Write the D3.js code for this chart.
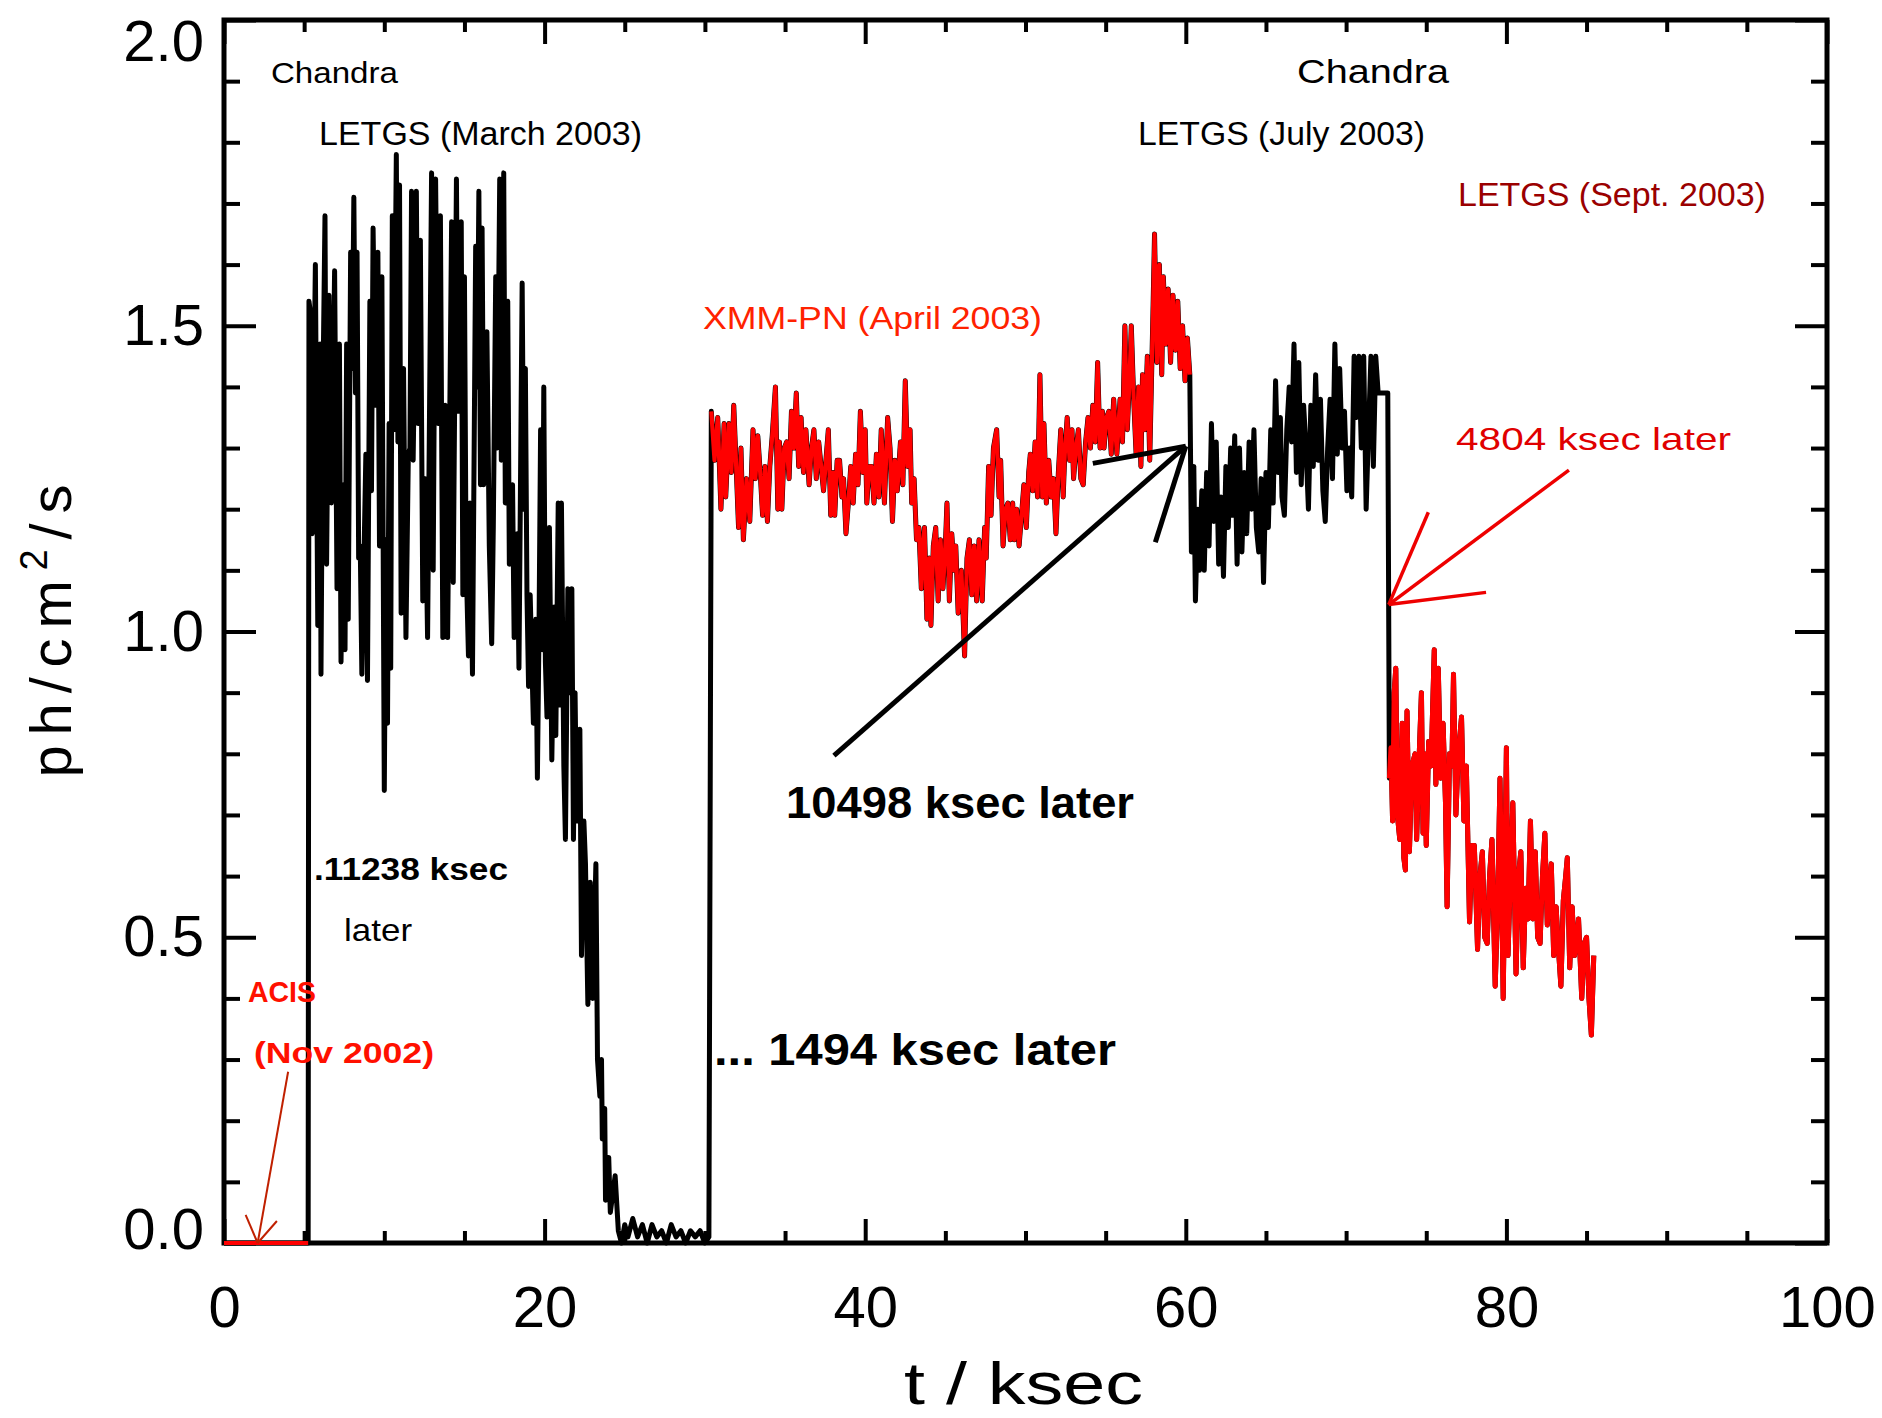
<!DOCTYPE html>
<html><head><meta charset="utf-8">
<script src="https://cdn.jsdelivr.net/npm/d3@7"></script>
<style>body{margin:0;background:#fff}</style>
</head><body><svg id="c" width="1882" height="1418"></svg>
<script>
// ---------- data (t in ksec, flux in ph/cm^2/s) ----------
const acis = [[0,0],[1,0],[2,0],[3,0],[4,0],[5.25,0]];
const march = [[5.30,1.54],[5.40,1.52],[5.50,1.16],[5.70,1.60],[5.85,1.01],[6.00,1.47],[6.05,0.93],[6.15,1.35],[6.30,1.68],[6.40,1.11],[6.55,1.55],[6.70,1.21],[6.90,1.59],[7.05,1.07],[7.20,1.47],[7.30,0.95],[7.45,1.24],[7.55,0.97],[7.65,1.47],[7.75,1.02],[7.90,1.62],[8.00,1.43],[8.10,1.71],[8.20,1.39],[8.30,1.62],[8.40,1.12],[8.50,1.14],[8.60,0.93],[8.85,1.29],[8.95,0.92],[9.10,1.54],[9.20,1.23],[9.30,1.66],[9.45,1.37],[9.60,1.62],[9.70,1.14],[9.85,1.58],[10.00,0.74],[10.10,1.15],[10.20,0.85],[10.30,1.34],[10.40,0.94],[10.50,1.68],[10.60,1.33],[10.75,1.78],[10.85,1.31],[10.95,1.73],[11.05,1.03],[11.20,1.43],[11.35,0.99],[11.50,1.29],[11.60,1.30],[11.70,1.72],[11.80,1.28],[11.90,1.47],[12.00,1.72],[12.10,1.34],[12.25,1.64],[12.40,1.05],[12.55,1.25],[12.70,0.99],[12.95,1.75],[13.05,1.10],[13.20,1.74],[13.35,1.34],[13.50,1.68],[13.65,0.99],[13.80,1.37],[13.95,0.99],[14.20,1.67],[14.30,1.08],[14.50,1.74],[14.60,1.36],[14.80,1.67],[14.90,1.06],[15.00,1.58],[15.10,1.12],[15.25,0.96],[15.35,1.21],[15.50,0.93],[15.70,1.63],[15.80,1.40],[15.90,1.72],[16.00,1.24],[16.10,1.66],[16.20,1.24],[16.40,1.49],[16.55,1.14],[16.70,0.98],[16.80,1.17],[16.95,1.58],[17.05,1.30],[17.20,1.74],[17.30,1.28],[17.45,1.75],[17.55,1.21],[17.70,1.54],[17.80,1.11],[18.00,1.24],[18.10,0.99],[18.30,1.16],[18.40,0.94],[18.60,1.57],[18.70,1.20],[18.80,1.43],[18.90,1.06],[19.00,0.91],[19.10,1.06],[19.30,0.85],[19.45,1.02],[19.55,0.76],[19.65,1.00],[19.75,1.33],[19.85,0.97],[19.95,1.40],[20.05,0.95],[20.15,0.86],[20.30,1.17],[20.45,0.79],[20.60,1.04],[20.70,0.83],[20.85,1.21],[20.95,0.88],[21.05,1.21],[21.20,0.78],[21.30,0.66],[21.45,1.07],[21.55,0.90],[21.70,1.07],[21.80,0.66],[21.90,0.90],[22.00,0.69],[22.20,0.84],[22.30,0.47],[22.45,0.69],[22.55,0.62],[22.70,0.39],[22.85,0.59],[23.00,0.40],[23.20,0.62],[23.30,0.30],[23.45,0.24],[23.55,0.30],[23.60,0.17],[23.75,0.22],[23.80,0.07],[24.00,0.14],[24.10,0.05],[24.40,0.11],[24.60,0.02],[24.80,0.00],[25.00,0.03],[25.20,0.01],[25.50,0.04],[25.80,0.01],[26.10,0.03],[26.40,0.00],[26.70,0.03],[27.00,0.01],[27.30,0.02],[27.60,0.00],[27.90,0.03],[28.20,0.01],[28.50,0.02],[28.80,0.00],[29.10,0.02],[29.40,0.01],[29.70,0.02],[30.00,0.00],[30.25,0.01]];
const xmm = [[30.40,1.36],[30.60,1.28],[30.80,1.35],[31.00,1.20],[31.20,1.34],[31.30,1.22],[31.50,1.34],[31.65,1.26],[31.80,1.37],[31.95,1.27],[32.10,1.17],[32.25,1.30],[32.40,1.15],[32.60,1.25],[32.80,1.18],[33.00,1.33],[33.15,1.25],[33.30,1.32],[33.45,1.26],[33.60,1.19],[33.75,1.27],[33.90,1.18],[34.05,1.27],[34.20,1.32],[34.40,1.40],[34.55,1.20],[34.65,1.31],[34.80,1.20],[34.95,1.30],[35.10,1.31],[35.25,1.25],[35.40,1.36],[35.55,1.30],[35.70,1.39],[35.85,1.27],[36.00,1.35],[36.15,1.26],[36.30,1.33],[36.50,1.24],[36.65,1.30],[36.80,1.33],[36.95,1.25],[37.10,1.31],[37.25,1.27],[37.40,1.23],[37.55,1.28],[37.70,1.33],[37.85,1.19],[38.00,1.26],[38.10,1.19],[38.25,1.28],[38.40,1.28],[38.55,1.22],[38.65,1.25],[38.80,1.16],[38.95,1.21],[39.10,1.27],[39.25,1.21],[39.40,1.29],[39.55,1.24],[39.70,1.36],[39.85,1.26],[40.00,1.33],[40.10,1.21],[40.25,1.27],[40.40,1.27],[40.55,1.21],[40.70,1.29],[40.85,1.22],[41.00,1.33],[41.20,1.21],[41.40,1.35],[41.55,1.30],[41.70,1.18],[41.85,1.28],[42.00,1.23],[42.20,1.31],[42.35,1.24],[42.50,1.41],[42.65,1.27],[42.80,1.33],[42.90,1.21],[43.05,1.25],[43.20,1.15],[43.35,1.17],[43.50,1.07],[43.60,1.14],[43.70,1.17],[43.85,1.02],[44.00,1.12],[44.10,1.01],[44.25,1.14],[44.40,1.17],[44.55,1.05],[44.70,1.15],[44.85,1.07],[45.00,1.14],[45.10,1.21],[45.25,1.05],[45.40,1.16],[45.55,1.10],[45.65,1.14],[45.80,1.03],[46.00,1.10],[46.20,0.96],[46.35,1.12],[46.50,1.15],[46.65,1.06],[46.80,1.14],[46.95,1.05],[47.10,1.15],[47.30,1.05],[47.45,1.17],[47.55,1.12],[47.70,1.27],[47.85,1.19],[48.00,1.30],[48.20,1.33],[48.35,1.22],[48.45,1.28],[48.60,1.14],[48.75,1.20],[48.90,1.21],[49.05,1.15],[49.20,1.21],[49.30,1.15],[49.45,1.20],[49.60,1.14],[49.75,1.19],[49.90,1.24],[50.05,1.17],[50.20,1.26],[50.30,1.29],[50.45,1.23],[50.60,1.31],[50.75,1.22],[50.90,1.42],[51.05,1.22],[51.15,1.34],[51.30,1.21],[51.45,1.28],[51.60,1.22],[51.75,1.25],[51.90,1.16],[52.05,1.26],[52.20,1.33],[52.35,1.22],[52.45,1.29],[52.60,1.35],[52.75,1.28],[52.90,1.33],[53.00,1.25],[53.15,1.30],[53.30,1.33],[53.45,1.25],[53.60,1.24],[53.75,1.31],[53.90,1.35],[54.05,1.30],[54.20,1.37],[54.35,1.31],[54.50,1.44],[54.65,1.30],[54.80,1.36],[54.90,1.30],[55.05,1.35],[55.20,1.36],[55.35,1.29],[55.50,1.38],[55.70,1.29],[55.90,1.38],[56.05,1.31],[56.20,1.50],[56.35,1.33],[56.50,1.42],[56.60,1.50],[56.75,1.38],[56.90,1.29],[57.05,1.40],[57.20,1.27],[57.30,1.42],[57.45,1.33],[57.60,1.45],[57.75,1.28],[57.95,1.52],[58.05,1.65],[58.20,1.44],[58.35,1.60],[58.50,1.42],[58.60,1.58],[58.75,1.47],[58.90,1.56],[59.05,1.44],[59.20,1.55],[59.35,1.46],[59.50,1.54],[59.65,1.43],[59.80,1.50],[59.95,1.41],[60.10,1.48],[60.25,1.42]];
const july = [[60.35,1.13],[60.50,1.27],[60.60,1.05],[60.75,1.20],[60.85,1.10],[61.00,1.23],[61.15,1.10],[61.30,1.26],[61.45,1.14],[61.60,1.34],[61.75,1.18],[61.90,1.31],[62.05,1.11],[62.20,1.22],[62.35,1.09],[62.50,1.27],[62.65,1.17],[62.80,1.30],[62.90,1.19],[63.05,1.32],[63.20,1.11],[63.35,1.30],[63.50,1.13],[63.65,1.26],[63.80,1.16],[63.95,1.31],[64.10,1.20],[64.25,1.33],[64.40,1.17],[64.55,1.13],[64.70,1.25],[64.85,1.08],[65.00,1.26],[65.15,1.17],[65.30,1.33],[65.45,1.21],[65.60,1.41],[65.75,1.26],[65.90,1.35],[66.00,1.22],[66.15,1.19],[66.30,1.33],[66.45,1.40],[66.60,1.31],[66.75,1.47],[66.90,1.26],[67.05,1.44],[67.20,1.24],[67.35,1.37],[67.50,1.30],[67.65,1.20],[67.80,1.37],[67.95,1.27],[68.10,1.42],[68.25,1.28],[68.40,1.38],[68.55,1.23],[68.70,1.18],[68.85,1.30],[69.00,1.38],[69.15,1.25],[69.30,1.47],[69.45,1.29],[69.60,1.43],[69.75,1.30],[69.90,1.36],[70.05,1.23],[70.20,1.30],[70.35,1.22],[70.50,1.45],[70.65,1.35],[70.80,1.45],[70.95,1.30],[71.10,1.45],[71.25,1.20],[71.40,1.33],[71.55,1.45],[71.70,1.27],[71.85,1.45],[72.00,1.39],[72.60,1.39]];
const sept = [[72.70,0.76],[72.80,0.81],[72.90,0.69],[73.00,0.90],[73.10,0.94],[73.20,0.70],[73.35,0.66],[73.50,0.85],[73.60,0.63],[73.70,0.61],[73.80,0.87],[73.95,0.64],[74.10,0.78],[74.30,0.80],[74.40,0.66],[74.55,0.79],[74.70,0.90],[74.80,0.67],[74.90,0.80],[75.00,0.65],[75.15,0.82],[75.30,0.78],[75.50,0.97],[75.60,0.75],[75.75,0.94],[75.90,0.76],[76.05,0.85],[76.20,0.72],[76.30,0.55],[76.45,0.80],[76.60,0.78],[76.70,0.93],[76.85,0.70],[77.00,0.80],[77.20,0.86],[77.35,0.69],[77.50,0.78],[77.70,0.525],[77.85,0.65],[78.00,0.65],[78.20,0.48],[78.35,0.60],[78.50,0.64],[78.65,0.50],[78.80,0.49],[78.95,0.60],[79.10,0.66],[79.30,0.42],[79.45,0.55],[79.60,0.76],[79.80,0.40],[80.00,0.81],[80.10,0.47],[80.25,0.60],[80.40,0.72],[80.60,0.44],[80.75,0.60],[80.90,0.64],[81.05,0.45],[81.20,0.58],[81.35,0.53],[81.50,0.69],[81.65,0.53],[81.80,0.64],[81.95,0.50],[82.10,0.49],[82.25,0.60],[82.40,0.67],[82.55,0.52],[82.70,0.58],[82.80,0.62],[82.95,0.47],[83.10,0.55],[83.25,0.48],[83.40,0.42],[83.55,0.56],[83.70,0.60],[83.80,0.63],[83.95,0.45],[84.10,0.55],[84.25,0.47],[84.40,0.50],[84.50,0.53],[84.70,0.40],[84.85,0.49],[85.00,0.50],[85.15,0.40],[85.30,0.34],[85.45,0.47]];

const xMajor = [0,20,40,60,80,100];
const xLabels = ["0","20","40","60","80","100"];
const yMajor = [0,0.5,1.0,1.5,2.0];
const yLabels = ["0.0","0.5","1.0","1.5","2.0"];
const xMinor = [5,10,15,25,30,35,45,50,55,65,70,75,85,90,95];
const yMinor = [0.1,0.2,0.3,0.4,0.6,0.7,0.8,0.9,1.1,1.2,1.3,1.4,1.6,1.7,1.8,1.9];

// annotations: text, t-range, flux centre
const notes = [
  {text:"Chandra", t0:2.93, t1:10.85, v:1.915, fs:30, c:"#000", w:"normal"},
  {text:"LETGS (March 2003)", t0:5.93, t1:26.08, v:1.815, fs:33, c:"#000", w:"normal"},
  {text:"Chandra", t0:66.94, t1:76.42, v:1.917, fs:34, c:"#000", w:"normal"},
  {text:"LETGS (July 2003)", t0:57.02, t1:74.92, v:1.815, fs:33, c:"#000", w:"normal"},
  {text:"LETGS (Sept. 2003)", t0:76.98, t1:96.19, v:1.715, fs:33, c:"#9a0000", w:"normal"},
  {text:"XMM-PN (April 2003)", t0:29.88, t1:51.03, v:1.513, fs:32, c:"#ff2200", w:"normal"},
  {text:"4804 ksec later", t0:76.86, t1:94.01, v:1.315, fs:32, c:"#e00000", w:"normal"},
  {text:"10498 ksec later", t0:35.06, t1:56.77, v:0.721, fs:44, c:"#000", w:"bold"},
  {text:".11238 ksec", t0:5.61, t1:17.72, v:0.612, fs:32, c:"#000", w:"bold"},
  {text:"later", t0:7.49, t1:11.73, v:0.512, fs:32, c:"#000", w:"normal"},
  {text:"ACIS", t0:1.50, t1:5.74, v:0.412, fs:30, c:"#ff1000", w:"bold"},
  {text:"(Nov 2002)", t0:1.87, t1:13.10, v:0.312, fs:30, c:"#ff1000", w:"bold"},
  {text:"... 1494 ksec later", t0:30.57, t1:55.65, v:0.317, fs:44, c:"#000", w:"bold"}
];
// arrows: polylines in data units
const arrows = [
  {c:"#000", sw:5, lines:[[[38.05,0.797],[60.0,1.303]],[[54.2,1.275],[60.0,1.303]],[[58.1,1.146],[60.0,1.303]]]},
  {c:"#ee0000", sw:3.5, lines:[[[83.9,1.264],[72.66,1.044]],[[75.13,1.195],[72.66,1.044]],[[78.73,1.064],[72.66,1.044]]]},
  {c:"#c02000", sw:2, lines:[[[4.0,0.28],[2.1,0.0]],[[1.35,0.046],[2.1,0.0]],[[3.3,0.036],[2.1,0.0]]]}
];

// ---------- drawing ----------
const W=1882,H=1418,L=224,R=1827,T=20,B=1243;
const FONT="'Liberation Sans', Arial, sans-serif";
const svg=d3.select('#c');
svg.append('rect').attr('width',W).attr('height',H).attr('fill','#fff');
const x=d3.scaleLinear().domain([0,100]).range([L,R]);
const y=d3.scaleLinear().domain([0,2]).range([B,T]);

function style(g){
  g.select('.domain').remove();
  g.selectAll('.tick line').attr('stroke','#000').attr('stroke-width',4);
  g.selectAll('.tick text').attr('font-family',FONT).attr('font-size',58).attr('fill','#000');
}
svg.append('g').attr('transform',`translate(0,${B})`)
  .call(d3.axisBottom(x).tickValues(xMajor).tickSize(-24).tickPadding(43).tickFormat((d,i)=>xLabels[i])).call(style);
svg.append('g').attr('transform',`translate(0,${B})`)
  .call(d3.axisBottom(x).tickValues(xMinor).tickSize(-12).tickFormat(()=>"")).call(style);
svg.append('g').attr('transform',`translate(0,${T})`)
  .call(d3.axisTop(x).tickValues(xMajor).tickSize(-24).tickFormat(()=>"")).call(style);
svg.append('g').attr('transform',`translate(0,${T})`)
  .call(d3.axisTop(x).tickValues(xMinor).tickSize(-12).tickFormat(()=>"")).call(style);
const yAx=svg.append('g').attr('transform',`translate(${L},0)`)
  .call(d3.axisLeft(y).tickValues(yMajor).tickSize(-32).tickPadding(20).tickFormat((d,i)=>yLabels[i])).call(style);
// keep end labels inside the picture, as in the original
yAx.selectAll('.tick text').attr('y',d=>d===2?22:(d===0?-13:0));
svg.append('g').attr('transform',`translate(${L},0)`)
  .call(d3.axisLeft(y).tickValues(yMinor).tickSize(-16).tickFormat(()=>"")).call(style);
svg.append('g').attr('transform',`translate(${R},0)`)
  .call(d3.axisRight(y).tickValues(yMajor).tickSize(-32).tickFormat(()=>"")).call(style);
svg.append('g').attr('transform',`translate(${R},0)`)
  .call(d3.axisRight(y).tickValues(yMinor).tickSize(-16).tickFormat(()=>"")).call(style);

svg.append('rect').attr('x',L).attr('y',T).attr('width',R-L).attr('height',B-T)
  .attr('fill','none').attr('stroke','#000').attr('stroke-width',5);

// axis titles
svg.append('text').attr('x',904).attr('y',1404)
  .attr('font-family',FONT).attr('font-size',60).attr('fill','#000')
  .attr('textLength',239).attr('lengthAdjust','spacingAndGlyphs').text('t / ksec');
const yt=svg.append('text').attr('transform','translate(71,631) rotate(-90)')
  .attr('text-anchor','middle').attr('font-family',FONT).attr('font-size',58).attr('fill','#000')
  .attr('textLength',293).attr('lengthAdjust','spacing');
yt.append('tspan').text('ph/cm');
yt.append('tspan').attr('font-size',38).attr('dy',-24).text('2');
yt.append('tspan').attr('dy',24).text('/s');

// data lines
const line=d3.line().x(d=>x(d[0])).y(d=>y(d[1]));
const all=[].concat(acis,march,xmm,july,sept);
svg.append('path').datum(all).attr('d',line).attr('fill','none')
  .attr('stroke','#000').attr('stroke-width',5).attr('stroke-linejoin','round');
[acis,xmm,sept].forEach(s=>{
  svg.append('path').datum(s).attr('d',line).attr('fill','none')
    .attr('stroke','#ff0000').attr('stroke-width',s===sept?5:4.2).attr('stroke-linejoin','round');
});

// arrows
arrows.forEach(a=>a.lines.forEach(l=>{
  svg.append('path').datum(l).attr('d',line).attr('fill','none')
    .attr('stroke',a.c).attr('stroke-width',a.sw).attr('stroke-linecap','butt');
}));

// annotations
notes.forEach(n=>{
  svg.append('text').attr('x',x(n.t0)).attr('y',y(n.v)+0.36*n.fs)
    .attr('font-family',FONT).attr('font-size',n.fs).attr('font-weight',n.w)
    .attr('fill',n.c).attr('textLength',x(n.t1)-x(n.t0)).attr('lengthAdjust','spacingAndGlyphs')
    .text(n.text);
});
</script></body></html>
